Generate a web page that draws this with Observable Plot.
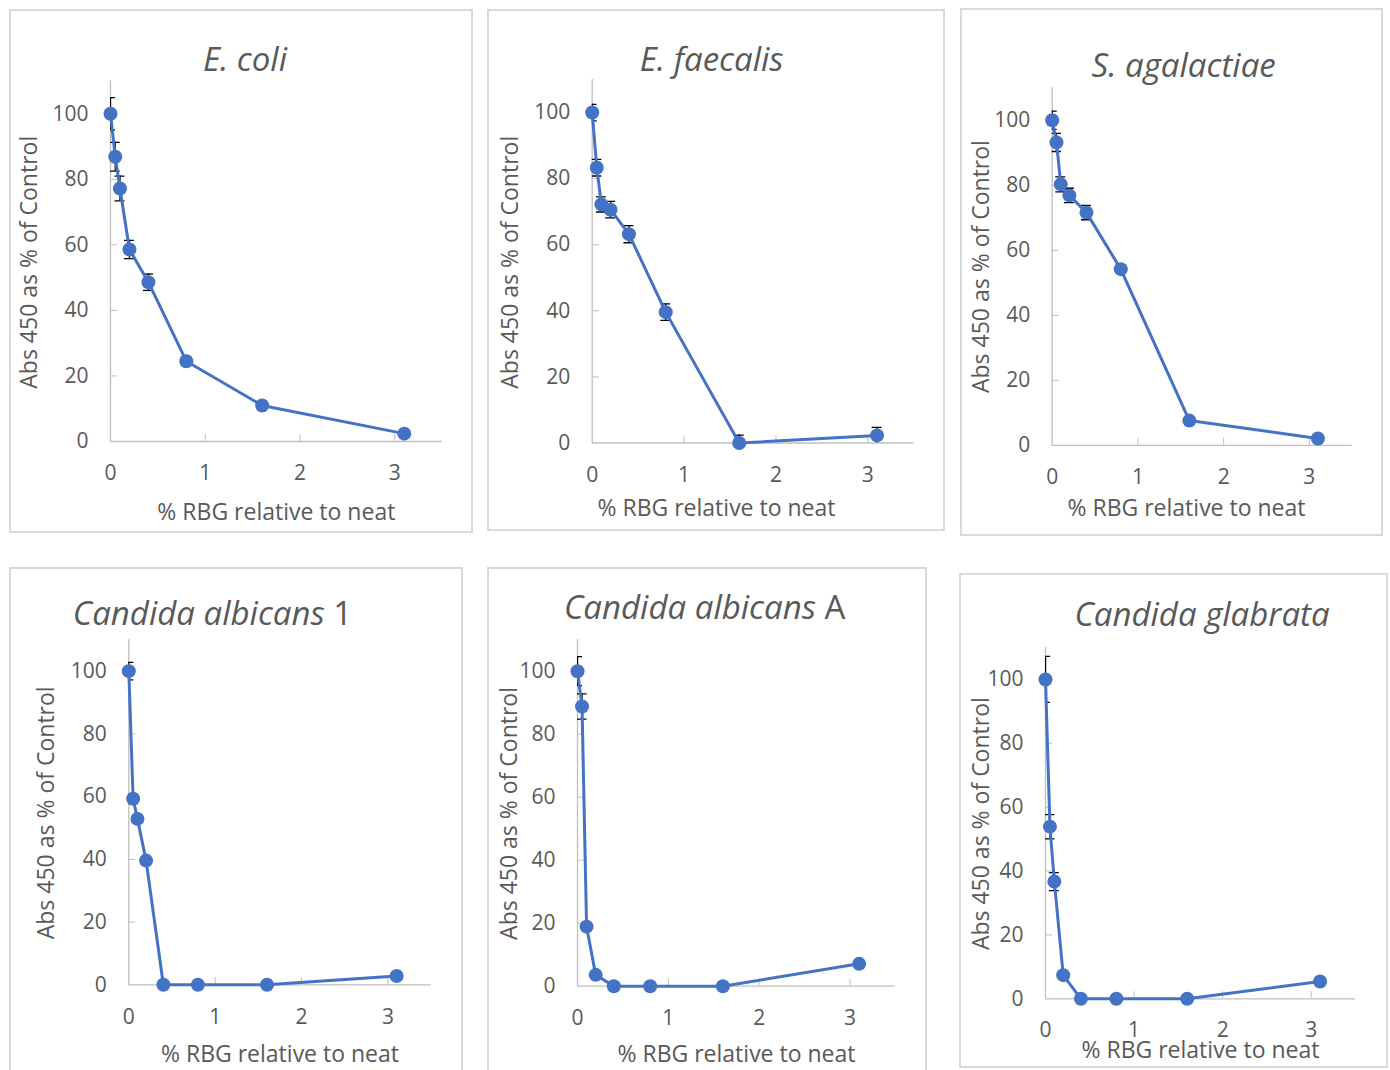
<!DOCTYPE html>
<html><head><meta charset="utf-8">
<script src="https://cdn.jsdelivr.net/npm/d3@7"></script>
<script src="https://cdn.jsdelivr.net/npm/@observablehq/plot@0.6"></script>
<style>
html,body{margin:0;padding:0;background:#fff;}
#root{position:relative;width:1390px;height:1070px;overflow:hidden;font-family:"Open Sans",sans-serif;}
.panel{position:absolute;}
.panel svg{display:block;outline:2px solid #d9d9d9;outline-offset:-2px;}
</style></head><body><div id="root"></div>
<script>
// ---- data ----
const concentrations = [0, 0.05, 0.1, 0.2, 0.4, 0.8, 1.6, 3.1];
const xTicks = [0, 1, 2, 3];
const yTicks = [0, 20, 40, 60, 80, 100];
const xAxisTitle = "% RBG relative to neat";
const yAxisTitle = "Abs 450 as % of Control";
const titlesItalic = ["E. coli", "E. faecalis", "S. agalactiae", "Candida albicans", "Candida albicans", "Candida glabrata"];
const titlesSuffix = ["", "", "", "1", "A", ""];

const ecoliValues      = [100, 86.9, 77.2, 58.6, 48.6, 24.5, 11.0, 2.4];
const ecoliErrors      = [4.9, 4.4, 3.8, 2.8, 2.5, 1.2, 0.8, 0.5];
const faecalisValues   = [100, 83.3, 72.2, 70.6, 63.2, 39.6, 0, 2.3];
const faecalisErrors   = [2.5, 2.5, 2.3, 2.5, 2.6, 2.5, 2.4, 2.4];
const agalactiaeValues = [100, 93.2, 80.3, 76.9, 71.6, 54.2, 7.6, 2.1];
const agalactiaeErrors = [2.8, 2.8, 2.3, 2.2, 2.2, 1.0, 0.5, 0.5];
const albicans1Values  = [100, 59.3, 52.9, 39.6, 0, 0, 0, 2.8];
const albicans1Errors  = [2.8, 1.5, 1.0, 1.0, 0.3, 0.3, 0.3, 0.5];
const albicansAValues  = [100, 88.8, 18.9, 3.6, 0, 0, 0, 7.1];
const albicansAErrors  = [4.6, 4.0, 1.0, 0.5, 0.3, 0.3, 0.3, 0.5];
const glabrataValues   = [100, 53.9, 36.7, 7.4, 0, 0, 0, 5.4];
const glabrataErrors   = [7.2, 3.8, 2.8, 1.0, 0.3, 0.3, 0.3, 0.5];

const seriesValues = [ecoliValues, faecalisValues, agalactiaeValues, albicans1Values, albicansAValues, glabrataValues];
const seriesErrors = [ecoliErrors, faecalisErrors, agalactiaeErrors, albicans1Errors, albicansAErrors, glabrataErrors];

// ---- layout (pixels) ----
const layouts = [
  {l:9,   t:9,   w:464, h:524, ml:101,   mt:71.5, mr:31.3, mb:92,   tx:236,   ty:62,   xlDx:0,     xlDy:78,   ylDx:-80.5, ylDy:1,   tp:24},
  {l:487, t:9,   w:458, h:522, ml:104.7, mt:70,   mr:31.7, mb:88.5, tx:224.7, ty:61.7, xlDx:-36.5, xlDy:72.5, ylDx:-81.7, ylDy:1,   tp:24},
  {l:960, t:8,   w:423, h:528, ml:91.7,  mt:79.3, mr:31.3, mb:91.2, tx:223.7, ty:68.5, xlDx:-15.7, xlDy:70.7, ylDx:-70.7, ylDy:0,   tp:24},
  {l:9,   t:567, w:454, h:513, ml:119.3, mt:72.3, mr:32.3, mb:95.7, tx:203.5, ty:58,   xlDx:0,     xlDy:77.4, ylDx:-82.3, ylDy:0.5, tp:24},
  {l:487, t:567, w:440, h:513, ml:90,    mt:72.2, mr:32,   mb:94.3, tx:217.7, ty:52,   xlDx:0,     xlDy:76,   ylDx:-68,   ylDy:0.5, tp:24},
  {l:959, t:573, w:429, h:495, ml:86,    mt:74,   mr:33,   mb:69.7, tx:243,   ty:52.7, xlDx:0,     xlDy:59,   ylDx:-64,   ylDy:0.5, tp:23}
];

const BLUE = "#4472C4", TEXT = "#595959", AXIS = "#bfbfbf";
const root = document.getElementById("root");
const fmt = d => String(d);

layouts.forEach((L, k) => {
  const vals = seriesValues[k], errs = seriesErrors[k];
  const rows = concentrations.map((c, i) => ({c, v: vals[i], lo: vals[i] - errs[i], hi: vals[i] + errs[i]}));
  const svg = Plot.plot({
    width: L.w, height: L.h,
    marginLeft: L.ml, marginTop: L.mt, marginRight: L.mr, marginBottom: L.mb,
    style: {fontFamily: '"Open Sans", sans-serif', fontSize: "21px", color: TEXT, background: "white", overflow: "visible"},
    x: {domain: [0, 3.5]},
    y: {domain: [0, 110]},
    marks: [
      Plot.ruleY([0], {stroke: AXIS, strokeWidth: 1.3}),
      Plot.ruleX([0], {stroke: AXIS, strokeWidth: 1.3}),
      Plot.axisX({ticks: xTicks.filter(t => t > 0), tickSize: 7, dy: -7, text: null, label: null, stroke: AXIS}),
      Plot.axisY({ticks: yTicks.filter(t => t > 0), tickSize: 7, dx: 7, text: null, label: null, stroke: AXIS}),
      Plot.axisX({ticks: xTicks, tickFormat: fmt, tickSize: 0, tickPadding: L.tp, label: null, fill: TEXT, fontSize: 21}),
      Plot.axisY({ticks: yTicks, tickFormat: fmt, tickSize: 0, tickPadding: 22, label: null, fill: TEXT, fontSize: 21}),
      Plot.ruleX(rows, {x: "c", y1: "lo", y2: "hi", stroke: "#000", strokeWidth: 1.3, clip: true}),
      Plot.ruleY(rows, {x1: "c", x2: "c", y: "hi", insetLeft: -5, insetRight: -5, stroke: "#000", strokeWidth: 1.3, clip: true}),
      Plot.ruleY(rows, {x1: "c", x2: "c", y: "lo", insetLeft: -5, insetRight: -5, stroke: "#000", strokeWidth: 1.3, clip: true}),
      Plot.line(rows, {x: "c", y: "v", stroke: BLUE, strokeWidth: 3}),
      Plot.dot(rows, {x: "c", y: "v", r: 7, fill: BLUE, stroke: "none"}),
      Plot.text([xAxisTitle], {frameAnchor: "bottom", textAnchor: "middle", lineAnchor: "bottom", dx: L.xlDx, dy: L.xlDy, fontSize: 23, fill: TEXT}),
      Plot.text([yAxisTitle], {frameAnchor: "left", textAnchor: "middle", rotate: -90, lineAnchor: "middle", dx: L.ylDx, dy: L.ylDy, fontSize: 23, fill: TEXT})
    ]
  });
  const title = d3.select(svg).append("text")
    .attr("x", L.tx).attr("y", L.ty)
    .attr("text-anchor", "middle").attr("fill", TEXT)
    .style("font-size", "33px").style("font-family", '"Open Sans", sans-serif');
  title.append("tspan").attr("font-style", "italic").text(titlesItalic[k]);
  if (titlesSuffix[k]) title.append("tspan").text(" " + titlesSuffix[k]);
  const div = document.createElement("div");
  div.className = "panel";
  div.style.left = L.l + "px";
  div.style.top = L.t + "px";
  div.style.width = L.w + "px";
  div.appendChild(svg);
  root.appendChild(div);
});
</script>
</body></html>
